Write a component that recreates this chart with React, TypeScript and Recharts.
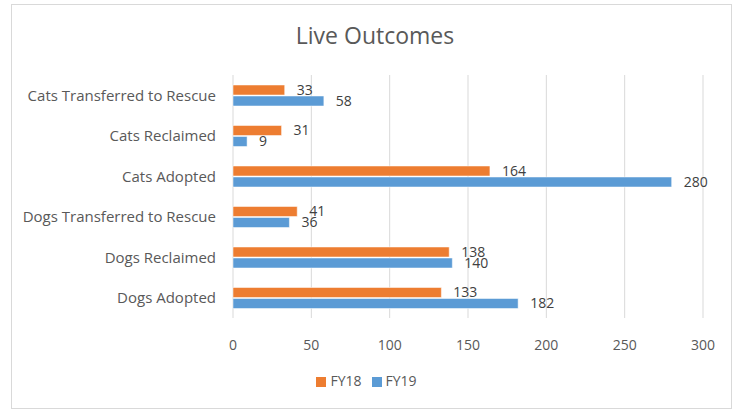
import { BarChart, Bar, XAxis, YAxis, CartesianGrid, LabelList, Legend } from "recharts";

const categories = [
  "Cats Transferred to Rescue",
  "Cats Reclaimed",
  "Cats Adopted",
  "Dogs Transferred to Rescue",
  "Dogs Reclaimed",
  "Dogs Adopted",
];
const fy18 = [33, 31, 164, 41, 138, 133];
const fy19 = [58, 9, 280, 36, 140, 182];
const xTicks = [0, 50, 100, 150, 200, 250, 300];

const data = categories.map((name, i) => ({ name, FY18: fy18[i], FY19: fy19[i] }));

const font = "'Open Sans', sans-serif";
const textColor = "#595959";

export default function App() {
  return (
    <div style={{ position: "absolute", left: 0, top: 0, width: 740, height: 410, background: "#fff", fontFamily: font }}>
      <div
        style={{
          position: "absolute",
          left: 11,
          top: 4,
          width: 719,
          height: 403,
          border: "1px solid #d9d9d9",
        }}
      />
      <div
        style={{
          position: "absolute",
          left: 0,
          top: 19,
          width: 750,
          textAlign: "center",
          fontSize: 23,
          color: textColor,
        }}
      >
        Live Outcomes
      </div>
      <BarChart
        layout="vertical"
        width={740}
        height={410}
        data={data}
        margin={{ top: 75, right: 37, left: 0, bottom: 33 }}
        barSize={10}
        barGap={1}
        style={{ position: "absolute", left: 0, top: 0 }}
      >
        <CartesianGrid horizontal={false} stroke="#d9d9d9" />
        <XAxis
          type="number"
          domain={[0, 300]}
          ticks={xTicks}
          axisLine={false}
          tickLine={false}
          tick={{ fill: textColor, fontSize: 14, fontFamily: font }}
          tickMargin={16}
          height={40}
        />
        <YAxis
          type="category"
          dataKey="name"
          width={233}
          axisLine={false}
          tickLine={false}
          tick={{ fill: textColor, fontSize: 15, fontFamily: font }}
          tickMargin={11}
        />
        <Legend
          verticalAlign="bottom"
          align="center"
          iconType="square"
          iconSize={10}
          wrapperStyle={{ fontSize: 14, color: textColor, fontFamily: font, left: 20, bottom: 20 }}
          formatter={(v) => <span style={{ color: textColor }}>{v}</span>}
        />
        <Bar dataKey="FY18" fill="#ED7D31" stroke="#fff" strokeWidth={0.5} isAnimationActive={false}>
          <LabelList dataKey="FY18" position="right" offset={12} fill="#404040" fontSize={14} fontFamily={font} />
        </Bar>
        <Bar dataKey="FY19" fill="#5B9BD5" stroke="#fff" strokeWidth={0.5} isAnimationActive={false}>
          <LabelList dataKey="FY19" position="right" offset={12} fill="#404040" fontSize={14} fontFamily={font} />
        </Bar>
      </BarChart>
    </div>
  );
}
